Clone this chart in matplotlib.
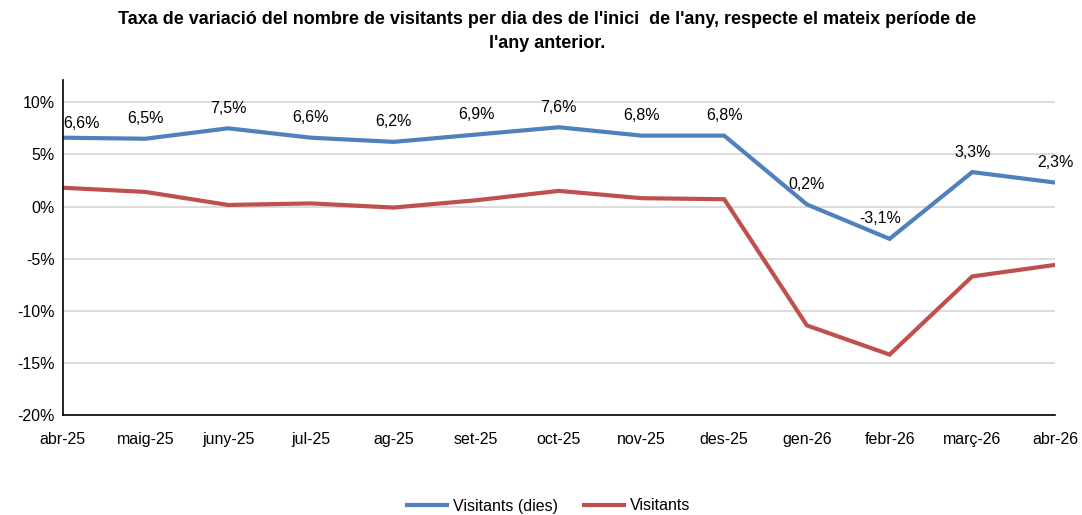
import matplotlib
matplotlib.use("Agg")
import matplotlib.pyplot as plt

plt.rcParams["font.family"] = ["Liberation Sans", "DejaVu Sans"]

months = ["abr-25", "maig-25", "juny-25", "jul-25", "ag-25", "set-25", "oct-25",
          "nov-25", "des-25", "gen-26", "febr-26", "març-26", "abr-26"]
visitants_dies = [6.6, 6.5, 7.5, 6.6, 6.2, 6.9, 7.6, 6.8, 6.8, 0.2, -3.1, 3.3, 2.3]
visitants = [1.8, 1.4, 0.15, 0.3, -0.1, 0.6, 1.5, 0.8, 0.7, -11.4, -14.2, -6.7, -5.6]
yticks = [-20, -15, -10, -5, 0, 5, 10]

blue = "#4F81BD"
red = "#C0504D"

fig = plt.figure(figsize=(10.82, 5.15), dpi=100)
ax = fig.add_axes([0.058, 0.194, 0.917, 0.65])

x = list(range(len(months)))
ax.plot(x, visitants_dies, color=blue, lw=3, label="Visitants (dies)", solid_joinstyle="miter")
ax.plot(x, visitants, color=red, lw=3, label="Visitants", solid_joinstyle="miter")

for xi, v in zip(x, visitants_dies):
    txt = f"{v:.1f}".replace(".", ",") + "%"
    if xi == 0:
        ax.annotate(txt, (xi, v), xytext=(0, 5), textcoords="offset points",
                    ha="left", va="bottom", fontsize=11.5)
        continue
    dx = -7 if v < 0 else 0
    ax.annotate(txt, (xi, v), xytext=(dx, 9), textcoords="offset points",
                ha="center", va="bottom", fontsize=11.5)

ax.set_xlim(0, len(months) - 1)
ax.set_ylim(-20, 12.1)
ax.set_yticks(yticks)
ax.set_yticklabels([f"{t}%" for t in yticks], fontsize=11.5)
ax.set_xticks(x)
ax.set_xticklabels(months, fontsize=11.5)
ax.tick_params(axis="y", length=0, pad=6)
ax.tick_params(axis="x", length=0, pad=12)
ax.grid(axis="y", color="#D9D9D9", lw=1.3)
ax.set_axisbelow(True)
for s in ["top", "right"]:
    ax.spines[s].set_visible(False)
for s in ["left", "bottom"]:
    ax.spines[s].set_color("black")
    ax.spines[s].set_linewidth(1.2)

fig.suptitle("Taxa de variació del nombre de visitants per dia des de l'inici  de l'any, respecte el mateix període de\nl'any anterior.",
             x=0.506, y=0.978, fontsize=13, fontweight="bold", linespacing=1.5)

fig.legend(loc="lower center", bbox_to_anchor=(0.507, -0.025), ncol=2, frameon=False,
           fontsize=11.5, handlelength=2.5, handletextpad=0.4, columnspacing=1.6)

fig.savefig("out.png", dpi=100)
